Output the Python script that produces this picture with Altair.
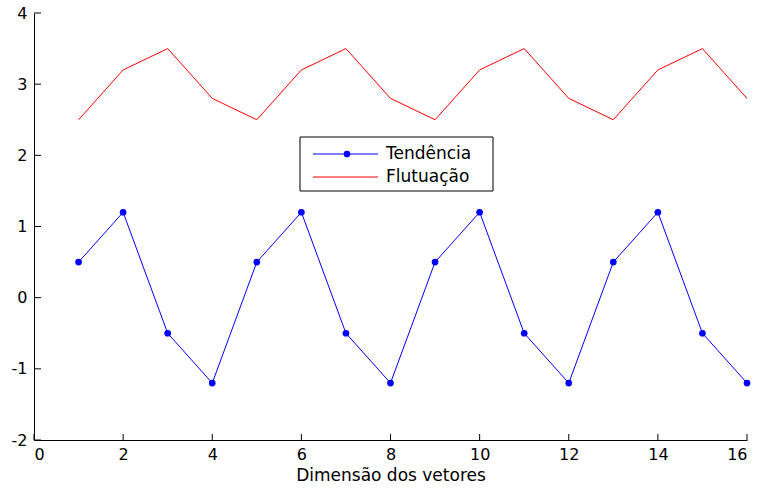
import altair as alt
import pandas as pd

x_vals = list(range(1, 17))
tendencia = [0.5, 1.2, -0.5, -1.2, 0.5, 1.2, -0.5, -1.2, 0.5, 1.2, -0.5, -1.2, 0.5, 1.2, -0.5, -1.2]
flutuacao = [2.5, 3.2, 3.5, 2.8, 2.5, 3.2, 3.5, 2.8, 2.5, 3.2, 3.5, 2.8, 2.5, 3.2, 3.5, 2.8]
x_ticks = [0, 2, 4, 6, 8, 10, 12, 14, 16]
y_ticks = [-2, -1, 0, 1, 2, 3, 4]
legend_labels = ["Tendência", "Flutuação"]
legend_colors = ["#0000ff", "#ff0000"]
x_title = "Dimensão dos vetores"

W, H = 713, 427
FONT = "DejaVu Sans"

df = pd.DataFrame({"x": x_vals, "t": tendencia, "f": flutuacao})
xt = pd.DataFrame({"v": x_ticks})
yt = pd.DataFrame({"v": y_ticks})

xs = alt.Scale(domain=[0, 16], nice=False, zero=False)
ys = alt.Scale(domain=[-2, 4], nice=False, zero=False)

base = alt.Chart(df)

x_axis = alt.Axis(values=x_ticks, tickSize=0, labelPadding=6, labelFontSize=16,
                  labelFont=FONT, labelColor="black", domainColor="black",
                  labelExpr="datum.value",
                  grid=False, title=x_title, titleFont=FONT, titleFontSize=17,
                  titleFontWeight="normal", titleColor="black", titlePadding=5)
y_axis = alt.Axis(values=y_ticks, tickSize=0, labelPadding=7, labelFontSize=16,
                  labelFont=FONT, labelColor="black", domainColor="black",
                  labelExpr="datum.value",
                  grid=False, title=None)

red_line = base.mark_line(color="#ff0000", strokeWidth=1).encode(
    x=alt.X("x:Q", scale=xs, axis=x_axis),
    y=alt.Y("f:Q", scale=ys, axis=y_axis),
)
blue_line = base.mark_line(color="#0000ff", strokeWidth=1).encode(
    x=alt.X("x:Q", scale=xs), y=alt.Y("t:Q", scale=ys))
blue_pts = base.mark_point(color="#0000ff", filled=True, opacity=1, size=45).encode(
    x=alt.X("x:Q", scale=xs), y=alt.Y("t:Q", scale=ys))

# inward ticks
xticks = alt.Chart(xt).mark_rule(color="black", strokeWidth=1).encode(
    x=alt.X("v:Q", scale=xs), y=alt.value(H), y2=alt.value(H - 6))
yticks = alt.Chart(yt).mark_rule(color="black", strokeWidth=1).encode(
    y=alt.Y("v:Q", scale=ys), x=alt.value(0), x2=alt.value(7))

# legend (manual box, MATLAB style)
one = pd.DataFrame({"a": [0]})
lx1, lx2, ly1, ly2 = 266, 459, 124, 178
row_ys = [141, 164]
leg_box = alt.Chart(one).mark_rect(
    fill="white", stroke="black", strokeWidth=1).encode(
    x=alt.value(lx1), x2=alt.value(lx2), y=alt.value(ly1), y2=alt.value(ly2))
leg_parts = [leg_box]
for label, color, ry in zip(legend_labels, legend_colors, row_ys):
    leg_parts.append(alt.Chart(one).mark_rule(color=color, strokeWidth=1).encode(
        x=alt.value(279), x2=alt.value(344), y=alt.value(ry)))
    leg_parts.append(alt.Chart(one).mark_text(
        align="left", baseline="middle", font=FONT, fontSize=17, color="black",
        text=label).encode(x=alt.value(352), y=alt.value(ry)))
leg_parts.append(alt.Chart(one).mark_point(
    filled=True, opacity=1, size=45, color=legend_colors[0]).encode(
    x=alt.value(313), y=alt.value(row_ys[0])))

chart = alt.layer(
    red_line, blue_line, blue_pts, xticks, yticks, *leg_parts
).properties(
    width=W, height=H,
    background="white",
    autosize=alt.AutoSizeParams(type="none"),
    padding={"left": 34, "top": 13, "right": 13, "bottom": 49},
).configure_view(stroke=None)

chart.save("out.html", embed_options={"renderer": "svg", "actions": False})
